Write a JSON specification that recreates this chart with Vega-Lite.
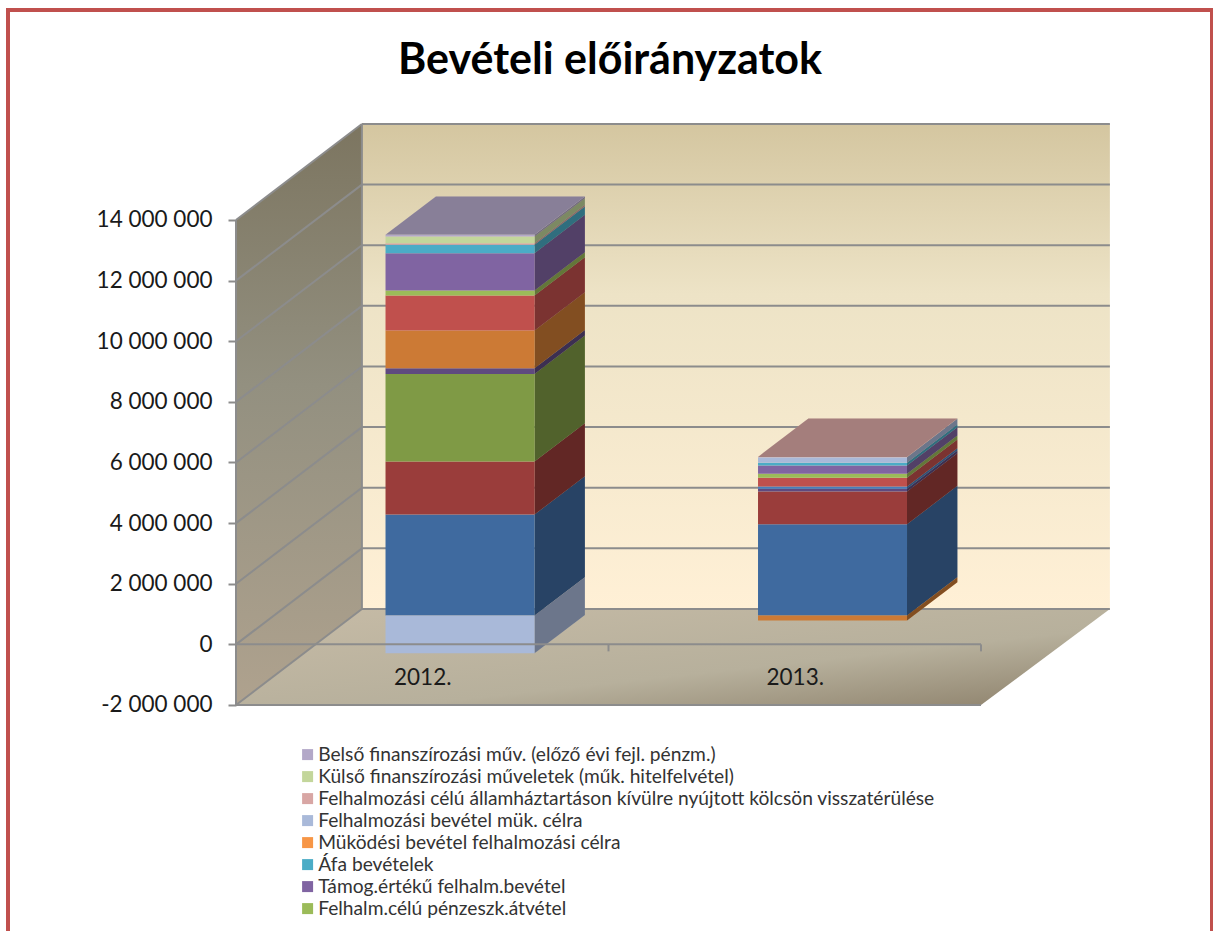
{
"$schema":"https://vega.github.io/schema/vega-lite/v6.json",
"width":1204,"height":940,
"autosize":{"type":"none"},
"padding":{"left":8,"top":10,"right":1,"bottom":0},
"background":"white",
"view":{"stroke":"#C0504D","strokeWidth":4,"fill":"white"},
"config":{"font":"Lato"},
"title":{"text":"Bevételi előirányzatok","font":"Lato","fontSize":43,"fontWeight":"bold","color":"#000000","anchor":"middle","offset":-73},
"datasets":{
"bars":[
{"year":"2012.","slot":0,"order":1,"series":"Egyéb bevétel 1","value":3332000},
{"year":"2012.","slot":0,"order":2,"series":"Egyéb bevétel 2","value":1748000},
{"year":"2012.","slot":0,"order":3,"series":"Egyéb bevétel 3","value":2893000},
{"year":"2012.","slot":0,"order":4,"series":"Egyéb bevétel 4","value":185000},
{"year":"2012.","slot":0,"order":5,"series":"Egyéb bevétel 5","value":1244000},
{"year":"2012.","slot":0,"order":7,"series":"Egyéb bevétel 7","value":1155000},
{"year":"2012.","slot":0,"order":8,"series":"Felhalm.célú pénzeszk.átvétel","value":165000},
{"year":"2012.","slot":0,"order":9,"series":"Támog.értékű felhalm.bevétel","value":1231000},
{"year":"2012.","slot":0,"order":10,"series":"Áfa bevételek","value":277000},
{"year":"2012.","slot":0,"order":12,"series":"Felhalmozási bevétel mük. célra","value":-1244000},
{"year":"2012.","slot":0,"order":13,"series":"Felhalmozási célú államháztartáson kívülre nyújtott kölcsön visszatérülése","value":53000},
{"year":"2012.","slot":0,"order":14,"series":"Külső finanszírozási műveletek (műk. hitelfelvétel)","value":221000},
{"year":"2012.","slot":0,"order":15,"series":"Belső finanszírozási műv. (előző évi fejl. pénzm.)","value":56000},
{"year":"2013.","slot":1,"order":1,"series":"Egyéb bevétel 1","value":3012000},
{"year":"2013.","slot":1,"order":2,"series":"Egyéb bevétel 2","value":1079000},
{"year":"2013.","slot":1,"order":4,"series":"Egyéb bevétel 4","value":89000},
{"year":"2013.","slot":1,"order":5,"series":"Egyéb bevétel 5","value":-165000},
{"year":"2013.","slot":1,"order":6,"series":"Egyéb bevétel 6","value":76000},
{"year":"2013.","slot":1,"order":7,"series":"Egyéb bevétel 7","value":287000},
{"year":"2013.","slot":1,"order":8,"series":"Felhalm.célú pénzeszk.átvétel","value":132000},
{"year":"2013.","slot":1,"order":9,"series":"Támog.értékű felhalm.bevétel","value":274000},
{"year":"2013.","slot":1,"order":10,"series":"Áfa bevételek","value":89000},
{"year":"2013.","slot":1,"order":12,"series":"Felhalmozási bevétel mük. célra","value":185000},
{"year":"2013.","slot":1,"order":13,"series":"Felhalmozási célú államháztartáson kívülre nyújtott kölcsön visszatérülése","value":12000}
],
"ticks":[{"tick":-2000000},{"tick":0},{"tick":2000000},{"tick":4000000},{"tick":6000000},{"tick":8000000},{"tick":10000000},{"tick":12000000},{"tick":14000000}],
"leftWall":[{"px":0,"py":-2000000,"py2":14000000},{"px":0.338,"py":1167000,"py2":17167000}],
"floor":[{"py":-2000000,"px":0,"px2":2},{"py":1167000,"px":0.338,"px2":2.346}],
"backWall":[{"px":0.338,"px2":2.346,"py":1167000,"py2":17167000}],
"frontLines":[{"px":0,"px2":2,"py":-2000000,"py2":-2000000},{"px":0,"px2":2,"py":0,"py2":0},{"px":0,"px2":0,"py":-2000000,"py2":14000000},{"px":0.338,"px2":0.338,"py":1167000,"py2":17167000},{"px":0,"px2":0,"py":0,"py2":-230000},{"px":1,"px2":1,"py":0,"py2":-230000},{"px":2,"px2":2,"py":0,"py2":-230000}]
},
"encoding":{
"x":{"field":"px","type":"quantitative","stack":null,"title":null,
"scale":{"domain":[-0.61208,2.62013],"nice":false,"zero":false},
"axis":{"values":[0.5,1.5],"labelExpr":"datum.value==0.5?'2012.':'2013.'","ticks":false,"domain":false,"grid":false,"offset":-288,"labelPadding":4,"labelFontSize":22.5,"labelFont":"Lato","labelColor":"#1a1a1a","labelBaseline":"top","zindex":1}},
"y":{"field":"py","type":"quantitative","stack":null,"title":null,
"scale":{"domain":[-10082500,20927800],"nice":false,"zero":false},
"axis":{"values":[-2000000,0,2000000,4000000,6000000,8000000,10000000,12000000,14000000],"labelExpr":"replace(replace(format(datum.value,','),/,/g,' '),'−','-')","ticks":true,"tickSize":8,"tickWidth":2,"tickColor":"#8c8c8c","domain":false,"grid":false,"offset":-228,"labelPadding":16,"labelFontSize":22.5,"labelFont":"Lato","labelColor":"#1a1a1a"}}
},
"layer":[
{"data":{"name":"backWall"},"mark":{"type":"rect","fill":{"gradient":"linear","x1":0,"y1":0,"x2":0,"y2":1,"stops":[{"offset":0,"color":"#D4C6A0"},{"offset":0.35,"color":"#EDE3C6"},{"offset":1,"color":"#FFF0D6"}]}},
 "encoding":{"x2":{"field":"px2"},"y2":{"field":"py2"}}},
{"data":{"name":"leftWall"},"mark":{"type":"area","fill":{"gradient":"linear","x1":0,"y1":0,"x2":0,"y2":1,"stops":[{"offset":0,"color":"#7C7560"},{"offset":0.45,"color":"#939080"},{"offset":1,"color":"#AFA28E"}]}},
 "encoding":{"y2":{"field":"py2"}}},
{"data":{"name":"floor"},"mark":{"type":"area","orient":"horizontal","fill":{"gradient":"linear","x1":0,"y1":0,"x2":1,"y2":1,"stops":[{"offset":0,"color":"#C6BBA6"},{"offset":0.6,"color":"#B7B09C"},{"offset":1,"color":"#8C806A"}]}},
 "encoding":{"x2":{"field":"px2"}}},
{"data":{"name":"ticks"},"transform":[{"calculate":"0.338","as":"px"},{"calculate":"2.346","as":"px2"},{"calculate":"datum.tick+3167000","as":"py"}],
 "mark":{"type":"rule","color":"#8c8c8c","strokeWidth":2},"encoding":{"x2":{"field":"px2"}}},
{"data":{"name":"ticks"},"transform":[{"calculate":"0","as":"px"},{"calculate":"0.338","as":"px2"},{"calculate":"datum.tick","as":"py"},{"calculate":"datum.tick+3167000","as":"py2"}],
 "mark":{"type":"rule","color":"#8c8c8c","strokeWidth":2},"encoding":{"x2":{"field":"px2"},"y2":{"field":"py2"}}},
{"data":{"name":"bars"},"transform":[
  {"stack":"value","groupby":["year"],"sort":[{"field":"order","order":"ascending"}],"as":["v0","v1"]},
  {"calculate":"[0.3,0.7]","as":"d"},{"flatten":["d"]},
  {"calculate":"datum.slot+0.7+0.338*datum.d","as":"px"},
  {"calculate":"datum.v0+3167000*datum.d","as":"py"},
  {"calculate":"datum.v1+3167000*datum.d","as":"py2"}],
 "mark":{"type":"area"},
 "encoding":{"y2":{"field":"py2"},"detail":{"field":"year"},"color":{"field":"series","type":"nominal"}}},
{"data":{"name":"bars"},"transform":[
  {"stack":"value","groupby":["year"],"sort":[{"field":"order","order":"ascending"}],"as":["v0","v1"]},
  {"calculate":"[0.3,0.7]","as":"d"},{"flatten":["d"]},
  {"calculate":"datum.slot+0.7+0.338*datum.d","as":"px"},
  {"calculate":"datum.v0+3167000*datum.d","as":"py"},
  {"calculate":"datum.v1+3167000*datum.d","as":"py2"}],
 "mark":{"type":"area","color":"#000000","opacity":0.36},
 "encoding":{"y2":{"field":"py2"},"detail":[{"field":"year"},{"field":"series"}]}},
{"data":{"name":"bars"},"transform":[
  {"stack":"value","groupby":["year"],"sort":[{"field":"order","order":"ascending"}],"as":["v0","v1"]},
  {"joinaggregate":[{"op":"max","field":"v1","as":"topv"}],"groupby":["year"]},
  {"filter":"datum.v1==datum.topv"},
  {"calculate":"[0.3,0.7]","as":"d"},{"flatten":["d"]},
  {"calculate":"datum.slot+0.3+0.338*datum.d","as":"px"},
  {"calculate":"datum.slot+0.7+0.338*datum.d","as":"px2"},
  {"calculate":"datum.v1+3167000*datum.d","as":"py"}],
 "mark":{"type":"area","orient":"horizontal"},
 "encoding":{"x2":{"field":"px2"},"detail":{"field":"year"},"color":{"field":"series","type":"nominal"}}},
{"data":{"name":"bars"},"transform":[
  {"stack":"value","groupby":["year"],"sort":[{"field":"order","order":"ascending"}],"as":["v0","v1"]},
  {"joinaggregate":[{"op":"max","field":"v1","as":"topv"}],"groupby":["year"]},
  {"filter":"datum.v1==datum.topv"},
  {"calculate":"[0.3,0.7]","as":"d"},{"flatten":["d"]},
  {"calculate":"datum.slot+0.3+0.338*datum.d","as":"px"},
  {"calculate":"datum.slot+0.7+0.338*datum.d","as":"px2"},
  {"calculate":"datum.v1+3167000*datum.d","as":"py"}],
 "mark":{"type":"area","orient":"horizontal","color":"#000000","opacity":0.24},
 "encoding":{"x2":{"field":"px2"},"detail":{"field":"year"}}},
{"data":{"name":"bars"},"transform":[
  {"stack":"value","groupby":["year"],"sort":[{"field":"order","order":"ascending"}],"as":["v0","v1"]},
  {"calculate":"datum.slot+0.3+0.1014","as":"px"},
  {"calculate":"datum.slot+0.7+0.1014","as":"px2"},
  {"calculate":"datum.v0+950100","as":"py"},
  {"calculate":"datum.v1+950100","as":"py2"}],
 "mark":{"type":"rect"},
 "encoding":{"x2":{"field":"px2"},"y2":{"field":"py2"},
  "color":{"field":"series","type":"nominal","title":null,
   "scale":{"domain":["Egyéb bevétel 1","Egyéb bevétel 2","Egyéb bevétel 3","Egyéb bevétel 4","Egyéb bevétel 5","Egyéb bevétel 6","Egyéb bevétel 7","Felhalm.célú pénzeszk.átvétel","Támog.értékű felhalm.bevétel","Áfa bevételek","Müködési bevétel felhalmozási célra","Felhalmozási bevétel mük. célra","Felhalmozási célú államháztartáson kívülre nyújtott kölcsön visszatérülése","Külső finanszírozási műveletek (műk. hitelfelvétel)","Belső finanszírozási műv. (előző évi fejl. pénzm.)"],
    "range":["#3F6A9F","#9A3D3B","#7F9A45","#5F4A7F","#CC7A35","#4A7EBB","#C0504D","#9BBB59","#8064A2","#4BACC6","#F79646","#A9B9D9","#D8A6A4","#C3D69B","#B3A8C8"]},
   "legend":{"orient":"none","legendX":290,"legendY":735,"symbolType":"square","symbolSize":121,"symbolStrokeWidth":0,"labelFontSize":19.2,"labelFont":"Lato","labelColor":"#333333","labelLimit":800,"labelOffset":1,"rowPadding":2,"values":["Belső finanszírozási műv. (előző évi fejl. pénzm.)","Külső finanszírozási műveletek (műk. hitelfelvétel)","Felhalmozási célú államháztartáson kívülre nyújtott kölcsön visszatérülése","Felhalmozási bevétel mük. célra","Müködési bevétel felhalmozási célra","Áfa bevételek","Támog.értékű felhalm.bevétel","Felhalm.célú pénzeszk.átvétel"]}}}},
{"data":{"name":"frontLines"},"mark":{"type":"rule","color":"#8c8c8c","strokeWidth":2},"encoding":{"x2":{"field":"px2"},"y2":{"field":"py2"}}}
]
}
